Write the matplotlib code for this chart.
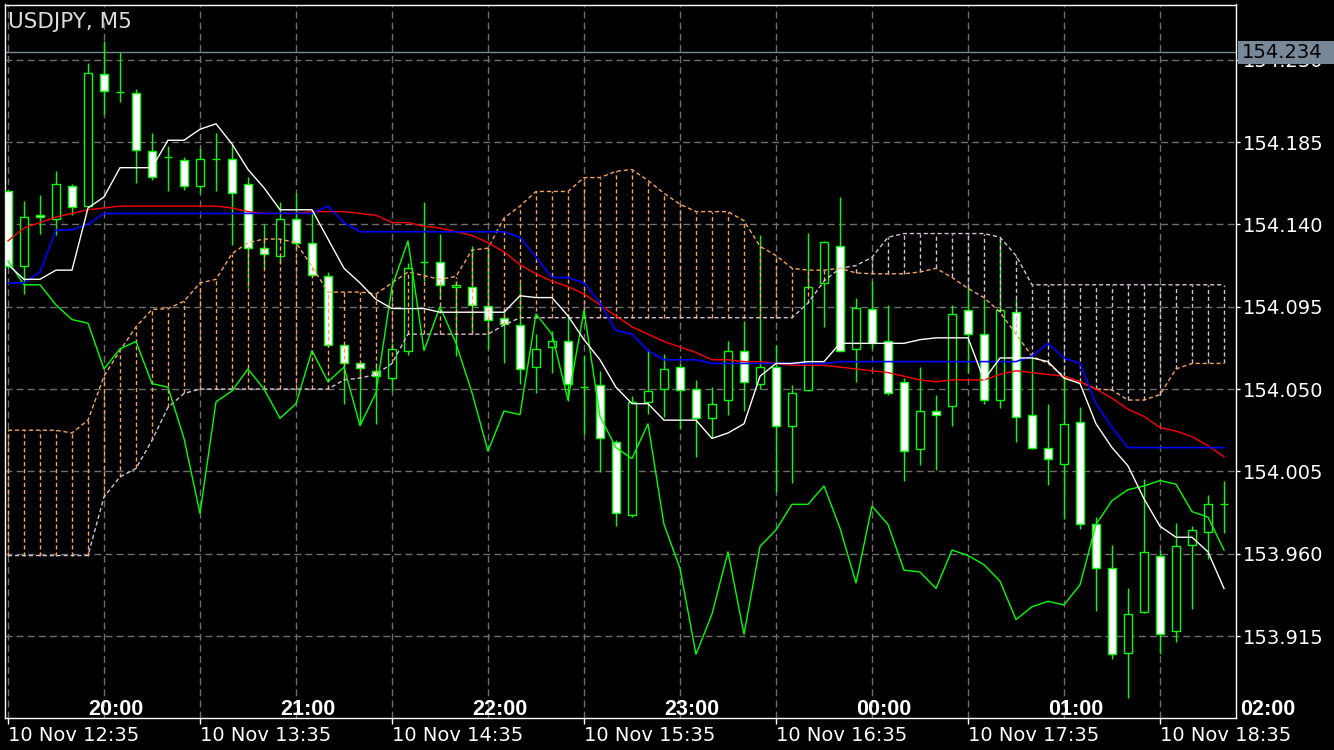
import numpy as np
import matplotlib
matplotlib.use('Agg')
import matplotlib.pyplot as plt
from matplotlib.patches import Rectangle
from matplotlib import transforms

# USDJPY M5 candles, 10 Nov 12:35 .. 18:55 (server time)
opens = [154.158, 154.117, 154.145, 154.143, 154.161, 154.150, 154.222, 154.2125, 154.212, 154.180,
         154.177, 154.175, 154.161, 154.176, 154.176, 154.162, 154.127, 154.1225, 154.143, 154.130,
         154.112, 154.074, 154.064, 154.060, 154.056, 154.071, 154.1196, 154.1195, 154.1056, 154.106,
         154.0955, 154.089, 154.085, 154.062, 154.073, 154.0765, 154.051, 154.052, 154.021, 153.981,
         154.043, 154.050, 154.062, 154.050, 154.034, 154.044, 154.071, 154.053, 154.062, 154.030,
         154.0495, 154.108, 154.128, 154.072, 154.094, 154.076, 154.054, 154.017, 154.038, 154.041,
         154.093, 154.080, 154.044, 154.092, 154.036, 154.018, 154.009, 154.032, 153.976, 153.952,
         153.9055, 153.928, 153.959, 153.918, 153.965, 153.972, 153.987]
highs = [154.159, 154.153, 154.156, 154.169, 154.162, 154.228, 154.240, 154.234, 154.214, 154.190,
         154.183, 154.177, 154.182, 154.190, 154.184, 154.166, 154.140, 154.152, 154.157, 154.147,
         154.114, 154.074, 154.064, 154.063, 154.075, 154.119, 154.152, 154.135, 154.109, 154.128,
         154.127, 154.0945, 154.108, 154.080, 154.082, 154.091, 154.0685, 154.060, 154.022, 154.046,
         154.072, 154.069, 154.0645, 154.055, 154.051, 154.076, 154.087, 154.134, 154.074, 154.052,
         154.1355, 154.131, 154.155, 154.100, 154.109, 154.096, 154.056, 154.062, 154.047, 154.096,
         154.106, 154.099, 154.133, 154.099, 154.068, 154.042, 154.057, 154.040, 153.980, 153.965,
         153.941, 154.001, 153.962, 153.977, 153.975, 153.992, 154.000]
lows = [154.116, 154.102, 154.135, 154.134, 154.145, 154.150, 154.2006, 154.207, 154.1625, 154.164,
        154.158, 154.159, 154.157, 154.158, 154.129, 154.106, 154.1155, 154.119, 154.129, 154.111,
        154.0735, 154.042, 154.031, 154.031, 154.049, 154.0685, 154.109, 154.099, 154.068, 154.080,
        154.072, 154.064, 154.053, 154.0476, 154.059, 154.0436, 154.0257, 154.0045, 153.975, 153.980,
        154.0365, 154.035, 154.028, 154.013, 154.0235, 154.036, 154.038, 154.050, 153.994, 153.9986,
        154.049, 154.084, 154.071, 154.054, 154.072, 154.0467, 154.000, 154.0086, 154.0057, 154.030,
        154.059, 154.042, 154.0396, 154.021, 154.017, 153.9974, 153.979, 153.9737, 153.9287, 153.9022,
        153.8814, 153.9276, 153.905, 153.9117, 153.930, 153.957, 153.9714]
closes = [154.117, 154.144, 154.144, 154.162, 154.1495, 154.223, 154.213, 154.2125, 154.1805, 154.166,
          154.177, 154.161, 154.176, 154.176, 154.157, 154.127, 154.124, 154.143, 154.130, 154.1125,
          154.074, 154.064, 154.0615, 154.057, 154.072, 154.116, 154.1196, 154.107, 154.1068, 154.096,
          154.088, 154.0855, 154.061, 154.072, 154.076, 154.053, 154.051, 154.023, 153.982, 154.043,
          154.049, 154.061, 154.0495, 154.034, 154.042, 154.071, 154.054, 154.062, 154.030, 154.048,
          154.106, 154.1305, 154.071, 154.0945, 154.075, 154.048, 154.016, 154.038, 154.036, 154.091,
          154.080, 154.044, 154.093, 154.035, 154.018, 154.012, 154.031, 153.976, 153.952, 153.905,
          153.927, 153.961, 153.916, 153.964, 153.973, 153.987, 153.987]

# Ichimoku lines
tenkan = [154.118, 154.110, 154.110, 154.115, 154.115, 154.149, 154.155, 154.171, 154.171, 154.171,
          154.186, 154.186, 154.192, 154.195, 154.184, 154.170, 154.160, 154.148, 154.148, 154.148,
          154.132, 154.116, 154.108, 154.099, 154.094, 154.094, 154.094, 154.092, 154.092, 154.092,
          154.092, 154.092, 154.101, 154.100, 154.100, 154.090, 154.077, 154.066, 154.051, 154.042,
          154.042, 154.033, 154.033, 154.033, 154.023, 154.026, 154.031, 154.057, 154.064, 154.064,
          154.065, 154.065, 154.075, 154.075, 154.075, 154.075, 154.075, 154.077, 154.078, 154.078,
          154.078, 154.055, 154.067, 154.067, 154.067, 154.065, 154.056, 154.053, 154.031, 154.018,
          154.008, 153.990, 153.975, 153.969, 153.969, 153.961, 153.941]
kijun = [154.108, 154.108, 154.114, 154.137, 154.137, 154.140, 154.146, 154.146, 154.146, 154.146,
         154.146, 154.146, 154.146, 154.146, 154.146, 154.146, 154.146, 154.146, 154.146, 154.146,
         154.150, 154.141, 154.136, 154.136, 154.136, 154.136, 154.136, 154.136, 154.136, 154.136,
         154.136, 154.136, 154.133, 154.122, 154.111, 154.111, 154.108, 154.097, 154.082, 154.080,
         154.071, 154.066, 154.066, 154.066, 154.064, 154.064, 154.064, 154.064, 154.064, 154.064,
         154.064, 154.064, 154.065, 154.065, 154.065, 154.065, 154.065, 154.065, 154.065, 154.065,
         154.065, 154.065, 154.065, 154.065, 154.068, 154.075, 154.067, 154.064, 154.042, 154.029,
         154.018, 154.018, 154.018, 154.018, 154.018, 154.018, 154.018]
red_ma = [154.131, 154.138, 154.141, 154.144, 154.146, 154.148, 154.149, 154.150, 154.150, 154.150,
          154.150, 154.150, 154.150, 154.150, 154.149, 154.147, 154.146, 154.146, 154.146, 154.147,
          154.147, 154.147, 154.146, 154.145, 154.141, 154.141, 154.139, 154.138, 154.136, 154.134,
          154.130, 154.125, 154.118, 154.113, 154.109, 154.106, 154.102, 154.096, 154.090, 154.084,
          154.080, 154.076, 154.073, 154.070, 154.066, 154.066, 154.065, 154.065, 154.064, 154.063,
          154.063, 154.063, 154.062, 154.061, 154.060, 154.059, 154.057, 154.055, 154.054, 154.055,
          154.055, 154.055, 154.058, 154.060, 154.059, 154.058, 154.057, 154.054, 154.050, 154.045,
          154.039, 154.035, 154.029, 154.027, 154.024, 154.019, 154.013]
chikou = [154.120, 154.107, 154.107, 154.096, 154.088, 154.086, 154.061, 154.072, 154.076, 154.053,
          154.051, 154.023, 153.982, 154.043, 154.049, 154.061, 154.050, 154.034, 154.042, 154.071,
          154.054, 154.062, 154.030, 154.048, 154.106, 154.131, 154.071, 154.095, 154.075, 154.048,
          154.016, 154.038, 154.036, 154.091, 154.080, 154.044, 154.093, 154.035, 154.018, 154.012,
          154.031, 153.976, 153.952, 153.905, 153.927, 153.961, 153.916, 153.964, 153.973, 153.987,
          153.987, 153.997, 153.974, 153.944, 153.986, 153.976, 153.951, 153.950, 153.941, 153.962,
          153.959, 153.954, 153.945, 153.924, 153.931, 153.934, 153.932, 153.943, 153.976, 153.989,
          153.995, 153.997, 154.000, 153.998, 153.983, 153.980, 153.962]
span_a = [154.0275, 154.0275, 154.0275, 154.0275, 154.026, 154.033, 154.057, 154.071, 154.084, 154.0935,
          154.094, 154.098, 154.108, 154.110, 154.124, 154.130, 154.132, 154.132, 154.130, 154.117,
          154.103, 154.103, 154.103, 154.102, 154.108, 154.114, 154.112, 154.110, 154.1115, 154.126,
          154.127, 154.1435, 154.150, 154.158, 154.158, 154.158, 154.1656, 154.1656, 154.169, 154.170,
          154.164, 154.157, 154.151, 154.147, 154.147, 154.147, 154.142, 154.128, 154.123, 154.116,
          154.115, 154.115, 154.116, 154.1135, 154.113, 154.113, 154.113, 154.114, 154.116, 154.111,
          154.105, 154.100, 154.092, 154.080, 154.068, 154.064, 154.057, 154.054, 154.050, 154.0495,
          154.044, 154.044, 154.047, 154.061, 154.064, 154.064, 154.064]
span_b = [153.959, 153.959, 153.959, 153.959, 153.959, 153.959, 153.991, 154.002, 154.0066, 154.022,
          154.040, 154.0476, 154.050, 154.050, 154.050, 154.050, 154.050, 154.050, 154.050, 154.050,
          154.050, 154.055, 154.056, 154.058, 154.064, 154.080, 154.080, 154.080, 154.080, 154.080,
          154.080, 154.085, 154.089, 154.089, 154.089, 154.089, 154.089, 154.089, 154.089, 154.089,
          154.089, 154.089, 154.089, 154.089, 154.089, 154.089, 154.089, 154.089, 154.089, 154.089,
          154.097, 154.109, 154.116, 154.1175, 154.122, 154.133, 154.135, 154.135, 154.135, 154.135,
          154.135, 154.135, 154.133, 154.123, 154.107, 154.107, 154.107, 154.107, 154.107, 154.107,
          154.107, 154.107, 154.107, 154.107, 154.107, 154.107, 154.107]

bid_price = 154.234
price_ticks = [153.915, 153.960, 154.005, 154.050, 154.095, 154.140, 154.185, 154.230]
date_labels = ['10 Nov 12:35', '10 Nov 13:35', '10 Nov 14:35', '10 Nov 15:35',
               '10 Nov 16:35', '10 Nov 17:35', '10 Nov 18:35']
local_hours = ['20:00', '21:00', '22:00', '23:00', '00:00', '01:00', '02:00']
local_hour_bars = [5, 17, 29, 41, 53, 65, 77]

plt.rcParams['font.family'] = 'DejaVu Sans'

LIME = '#00ff00'
SANDY = '#f4a460'
THISTLE = '#d8bfd8'
GRID = '#6e6e6e'

W, H = 1334, 750
fig = plt.figure(figsize=(W / 100, H / 100), dpi=100, facecolor='black')
ax = fig.add_axes([5 / W, 1 - 718 / H, 1231 / W, 713.5 / H])
ax.set_facecolor('black')

x = np.arange(len(closes))
o = np.array(opens); c = np.array(closes)
hi = np.array(highs); lo = np.array(lows)
sa = np.array(span_a); sb = np.array(span_b)

ax.set_xlim(-0.1875, 76.75)
ax.set_ylim(153.8702, 154.2602)

# dashed grid
for p in price_ticks:
    ax.axhline(p, color=GRID, lw=1, ls=(0, (5, 3)), zorder=0.5)
for b in range(0, len(x), 6):
    ax.axvline(b, color=GRID, lw=1, ls=(0, (5, 3)), zorder=0.5)

# bid line
ax.axhline(bid_price, color='#778899', lw=1, zorder=0.8)

# candles
up = c >= o
ax.vlines(x, lo, hi, color=LIME, lw=1, zorder=2)
ax.bar(x, np.abs(c - o), bottom=np.minimum(o, c), width=0.5,
       color=np.where(up, 'black', 'white'), edgecolor=LIME, linewidth=1, zorder=3)

# kumo hatching
cloud_cols = np.where(sa >= sb, SANDY, THISTLE)
ax.vlines(x, np.minimum(sa, sb), np.maximum(sa, sb), colors=cloud_cols,
          lw=1, linestyles=(0, (3, 2)), zorder=4)
ax.plot(x, sa, color=SANDY, lw=1, ls=(0, (3, 2)), zorder=4)
ax.plot(x, sb, color=THISTLE, lw=1, ls=(0, (3, 2)), zorder=4)

ax.plot(x, chikou, color=LIME, lw=1, zorder=5)
ax.plot(x, red_ma, color='#ff0000', lw=1, zorder=5)
ax.plot(x, kijun, color='#0000ff', lw=1.2, zorder=5)
ax.plot(x, tenkan, color='white', lw=1, zorder=6)

# frame and axes
for s in ax.spines.values():
    s.set_color('white')
    s.set_linewidth(1)
ax.yaxis.tick_right()
ax.set_yticks(price_ticks)
ax.set_yticklabels(['%.3f' % p for p in price_ticks])
ax.tick_params(axis='y', colors='white', length=3, width=1, pad=2, labelsize=14)
ax.set_xticks(range(0, len(x), 12))
ax.set_xticklabels(date_labels, ha='left')
ax.tick_params(axis='x', colors='white', length=4, width=1, pad=2, labelsize=14)

# local time row inside the chart
trans = transforms.blended_transform_factory(ax.transData, ax.transAxes)
for b, lab in zip(local_hour_bars, local_hours):
    ax.text(b, 0.004, lab, transform=trans, ha='left', va='baseline', color='white',
            fontsize=15.5, fontweight='bold', family=['Liberation Sans', 'DejaVu Sans'],
            clip_on=False, zorder=7)

ax.text(0.0024, 0.9755, 'USDJPY, M5', transform=ax.transAxes, ha='left', va='center',
        color='#dcdcdc', fontsize=15.5, zorder=7)

# bid price tag on the price scale
tag_trans = transforms.blended_transform_factory(fig.transFigure, ax.transData)
fig.add_artist(Rectangle((1238 / W, bid_price - 0.0063), 96 / W, 0.0126,
                         transform=tag_trans, facecolor='#778899', edgecolor='none', zorder=5))
fig.text(1242 / W, bid_price, '%.3f' % bid_price, transform=tag_trans, ha='left', va='center',
         color='black', fontsize=14, zorder=6)

fig.savefig('out.png', dpi=100, facecolor='black')
